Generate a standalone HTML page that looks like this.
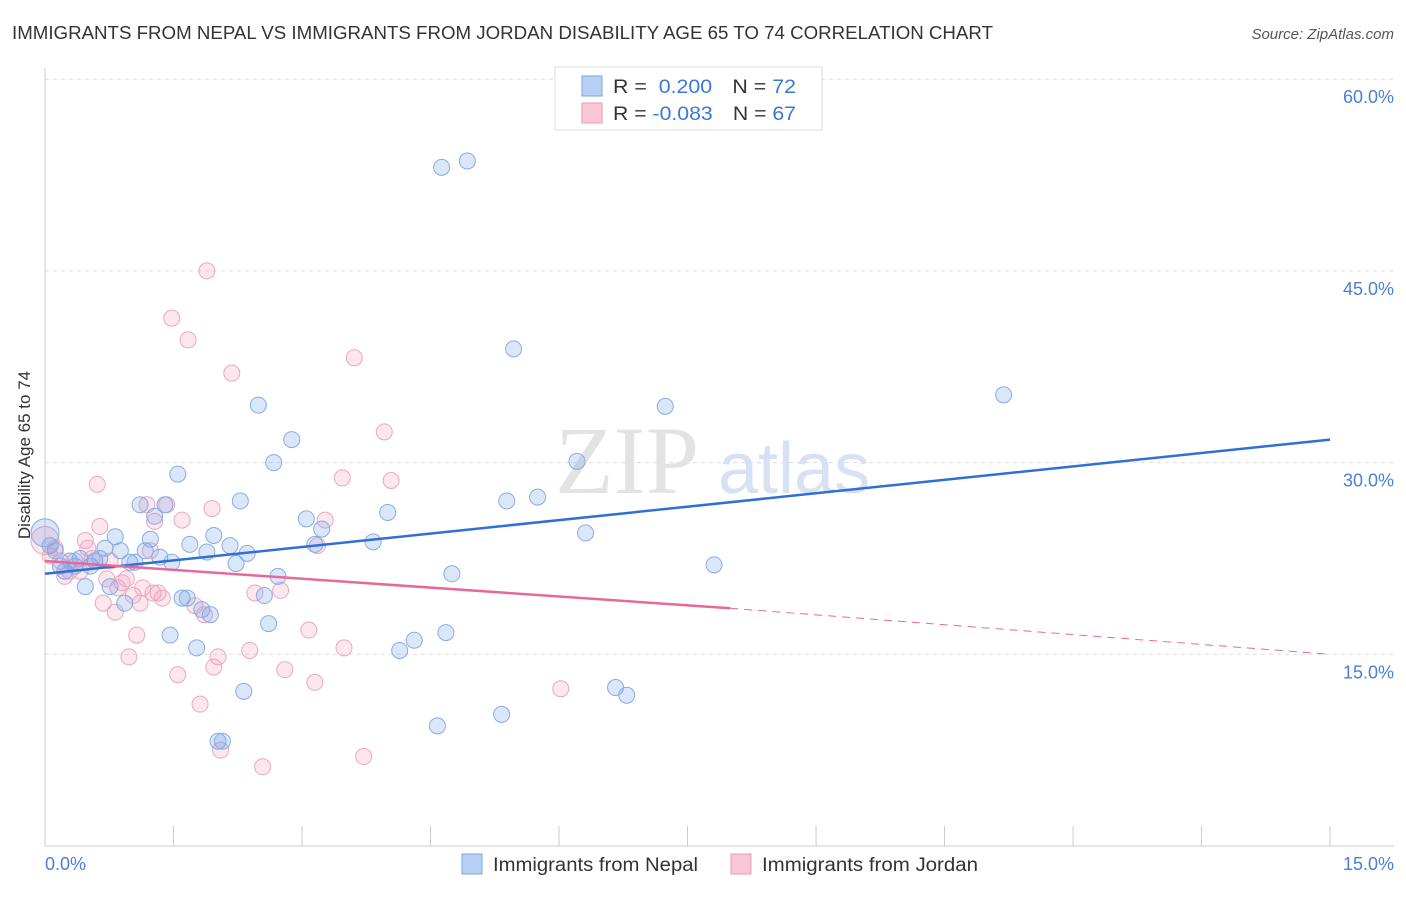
<!DOCTYPE html>
<html><head><meta charset="utf-8"><style>
body{margin:0;background:#fff;font-family:"Liberation Sans",sans-serif}
</style></head><body>
<svg width="1406" height="892" viewBox="0 0 1406 892" xmlns="http://www.w3.org/2000/svg">
<text x="12" y="39" font-size="18" fill="#333" textLength="981" lengthAdjust="spacingAndGlyphs">IMMIGRANTS FROM NEPAL VS IMMIGRANTS FROM JORDAN DISABILITY AGE 65 TO 74 CORRELATION CHART</text>
<text x="1394" y="39" font-size="15" fill="#555" font-style="italic" text-anchor="end">Source: ZipAtlas.com</text>
<g id="grid"></g>
<text x="555" y="493" font-size="96" fill="#e3e3e3" font-family="Liberation Serif">ZIP</text>
<text x="718" y="493" font-size="72" fill="#d6e2f3">atlas</text>
<line x1="45" y1="68" x2="45" y2="846" stroke="#ccc"/>
<line x1="45" y1="846" x2="1394" y2="846" stroke="#ccc"/>
<g id="xticks"></g>
<text x="30" y="455" font-size="17" fill="#333" text-anchor="middle" transform="rotate(-90 30 455)">Disability Age 65 to 74</text>
<text x="45" y="870" font-size="18" fill="#4a7fd6">0.0%</text>
<text x="1394" y="870" font-size="18" fill="#4a7fd6" text-anchor="end">15.0%</text>
<g id="pts"></g>
<g id="trend"></g>
<g>
<rect x="555" y="67" width="267" height="63" fill="#fff" stroke="#ddd"/>
<rect x="582" y="76" width="20" height="20" fill="#b8d0f4" stroke="#7aa6e0"/>
<rect x="582" y="103" width="20" height="20" fill="#f9c6d6" stroke="#e89ab5"/>
<text x="613" y="93" font-size="19" fill="#333" textLength="183" lengthAdjust="spacingAndGlyphs">R = <tspan fill="#3b78d8">&#160;0.200</tspan><tspan dx="18">N = </tspan><tspan fill="#3b78d8">72</tspan></text>
<text x="613" y="120" font-size="19" fill="#333" textLength="183" lengthAdjust="spacingAndGlyphs">R = <tspan fill="#3b78d8">-0.083</tspan><tspan dx="18">N = </tspan><tspan fill="#3b78d8">67</tspan></text>
</g>
<g>
<rect x="462" y="854" width="20" height="20" fill="#b8d0f4" stroke="#7aa6e0"/>
<text x="493" y="871" font-size="19" fill="#333" textLength="205" lengthAdjust="spacingAndGlyphs">Immigrants from Nepal</text>
<rect x="731" y="854" width="20" height="20" fill="#f9c6d6" stroke="#e89ab5"/>
<text x="762" y="871" font-size="19" fill="#333" textLength="216" lengthAdjust="spacingAndGlyphs">Immigrants from Jordan</text>
</g>
</svg>
<script>
const yTicks=[15,30,45,60];
const yTickLabels=["15.0%","30.0%","45.0%","60.0%"];
const xTicks=[0,1.5,3,4.5,6,7.5,9,10.5,12,13.5,15];
const nepalX=[0,0.06,0.12,0.18,0.23,0.29,0.35,0.41,0.47,0.53,0.58,0.64,0.7,0.76,0.82,0.88,0.93,0.99,1.05,1.11,1.17,1.23,1.28,1.34,1.4,1.46,1.48,1.55,1.6,1.66,1.69,1.77,1.83,1.89,1.93,1.97,2.02,2.07,2.16,2.23,2.28,2.32,2.36,2.49,2.56,2.61,2.67,2.72,2.88,3.05,3.23,3.15,3.83,4.0,4.14,4.31,4.58,4.63,4.68,4.75,4.93,5.33,5.39,5.47,5.75,6.21,6.31,6.66,6.79,7.24,7.81,11.19];
const nepalY=[24.5,23.5,23.1,21.9,21.5,22.3,21.9,22.5,20.3,21.9,22.3,22.5,23.3,20.3,24.2,23.1,19.0,22.2,22.2,26.7,23.1,24.0,25.8,22.6,26.7,16.5,22.2,29.1,19.4,19.4,23.6,15.5,18.5,23.0,18.1,24.3,8.2,8.2,23.5,22.1,27.0,12.1,22.9,34.5,19.6,17.4,30.0,21.1,31.8,25.6,24.8,23.6,23.8,26.1,15.3,16.1,9.4,53.1,16.7,21.3,53.6,10.3,27.0,38.9,27.3,30.1,24.5,12.4,11.8,34.4,22.0,35.3];
const jordanX=[0,0.06,0.12,0.18,0.23,0.29,0.35,0.41,0.47,0.5,0.55,0.61,0.64,0.68,0.72,0.76,0.82,0.85,0.9,0.95,0.98,1.03,1.07,1.11,1.14,1.19,1.23,1.26,1.28,1.32,1.37,1.42,1.48,1.55,1.6,1.67,1.75,1.81,1.86,1.89,1.95,1.97,2.02,2.05,2.18,2.39,2.45,2.54,2.75,2.8,3.08,3.15,3.18,3.27,3.47,3.49,3.61,3.72,3.96,4.04,6.02];
const jordanY=[23.9,22.7,23.3,22.3,21.1,21.5,22.3,21.5,23.9,23.3,22.5,28.3,25.0,19.0,20.9,22.3,18.3,20.2,20.6,20.9,14.8,19.6,16.5,19.0,20.2,26.7,23.1,19.8,25.4,19.8,19.4,26.7,41.3,13.4,25.5,39.6,18.8,11.1,18.1,45.0,26.4,14.0,14.8,7.5,37.0,15.3,19.8,6.2,20.0,13.8,16.9,12.8,23.5,25.5,28.8,15.5,38.2,7.0,32.4,28.6,12.3];
const X=v=>45+v*85.67, Y=v=>846-v*12.78;
const NS='http://www.w3.org/2000/svg';
function mk(t,a,p){const e=document.createElementNS(NS,t);for(const k in a)e.setAttribute(k,a[k]);p.appendChild(e);return e;}
const g=document.getElementById('grid');
yTicks.forEach((t,i)=>{
 const l=mk('line',{x1:45,x2:1394,y1:Y(t),y2:Y(t),stroke:'#ddd','stroke-dasharray':'4,4'},g);
 
 
 const tx=mk('text',{x:1394,y:Y(t)+24,'font-size':18,fill:'#4a7fd6','text-anchor':'end'},g);
 tx.textContent=yTickLabels[i];
 
 
});
const xt=document.getElementById('xticks');
xTicks.forEach(t=>{
 const l=mk('line',{x1:X(t),x2:X(t),y1:826,y2:846,stroke:'#ccc'},xt);
 
 
});
const pg=document.getElementById('pts');
function pts(xs,ys,fill,stroke,name){
 xs.forEach((x,i)=>{
  const r=i==0?14:8;
  const c=mk('circle',{cx:X(x),cy:Y(ys[i]),r:r,fill:fill,stroke:stroke,'stroke-width':1},pg);
  
  
 });
}
pts(jordanX,jordanY,'rgba(244,160,190,0.25)','#eba7bf','point-jordan');
pts(nepalX,nepalY,'rgba(110,160,230,0.25)','#86ade4','point-nepal');
const tg=document.getElementById('trend');
let l=mk('line',{x1:X(0),y1:Y(21.3),x2:X(15),y2:Y(31.8),stroke:'#2f6fd6','stroke-width':2.5},tg);


l=mk('line',{x1:X(0),y1:Y(22.3),x2:X(8),y2:Y(18.6),stroke:'#e8689a','stroke-width':2.5},tg);


l=mk('line',{x1:X(8),y1:Y(18.6),x2:X(15),y2:Y(15.0),stroke:'#e8689a','stroke-width':1,'stroke-dasharray':'8,6'},tg);


</script>
</body></html>
